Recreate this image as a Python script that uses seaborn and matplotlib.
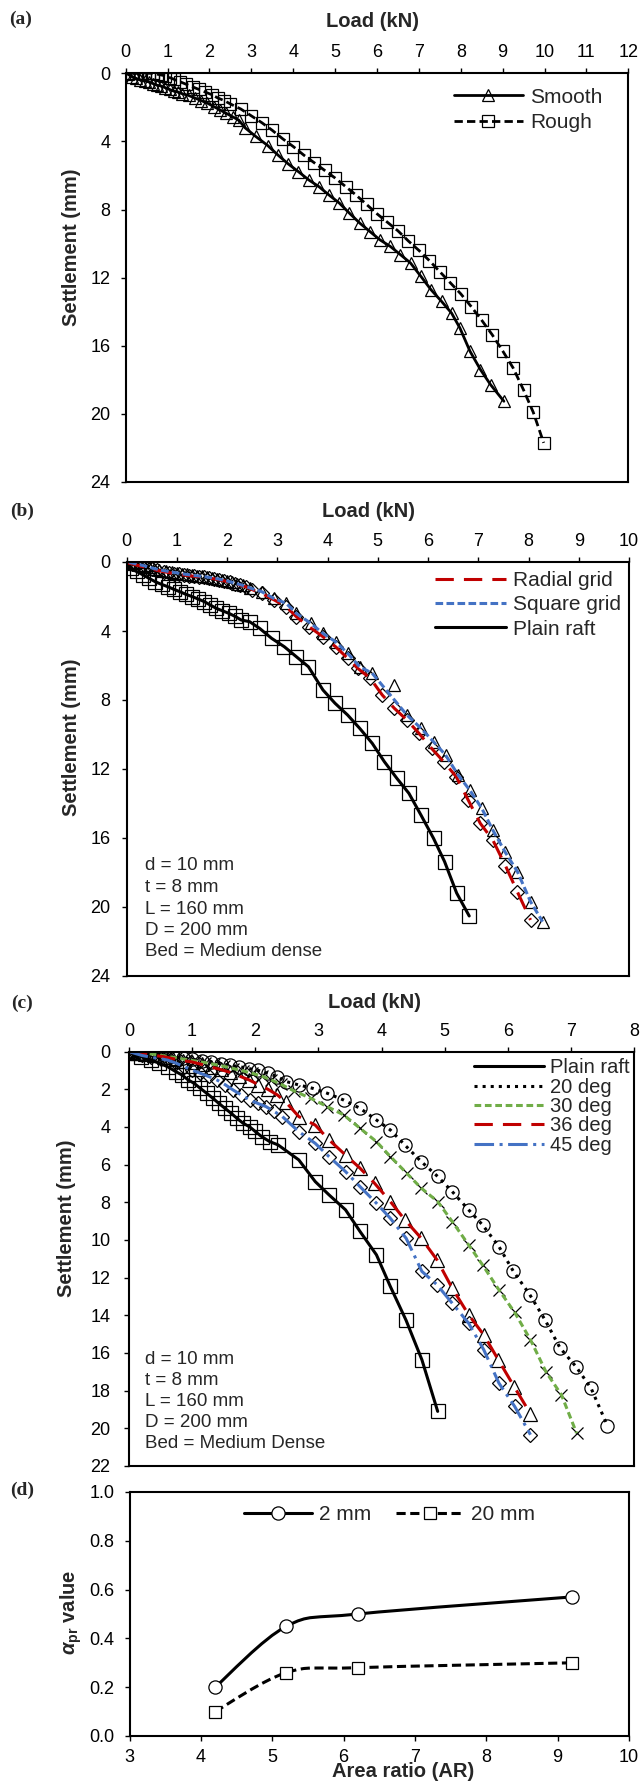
import numpy as np
import matplotlib
matplotlib.use("Agg")
import matplotlib.pyplot as plt
import seaborn as sns
from matplotlib.lines import Line2D
from matplotlib.path import Path
from matplotlib.patches import PathPatch

# ---------------- data ----------------
# (a) Smooth vs Rough
a_smooth_load = [0.05,0.15,0.25,0.35,0.45,0.55,0.65,0.75,0.85,0.95,1.05,1.15,1.25,1.35,1.5,1.65,1.8,1.95,2.1,2.25,2.4,2.55,2.7,
                 2.85,3.1,3.39,3.63,3.88,4.12,4.37,4.61,4.85,5.1,5.34,5.59,5.83,6.07,6.32,6.56,6.8,7.05,7.29,7.54,7.78,7.98,8.22,8.47,8.71,9.03]
a_smooth_sett = [0.05,0.2,0.3,0.4,0.45,0.5,0.6,0.7,0.75,0.85,0.95,1.05,1.1,1.2,1.3,1.45,1.6,1.75,1.95,2.15,2.35,2.55,2.75,
                 3.2,3.7,4.24,4.79,5.32,5.77,6.26,6.65,7.14,7.62,8.21,8.8,9.29,9.78,10.17,10.65,11.14,11.93,12.71,13.39,14.08,14.96,16.32,17.4,18.28,19.26]
a_rough_load = [0.15,0.25,0.35,0.45,0.55,0.65,0.75,0.85,0.95,1.05,1.15,1.3,1.45,1.6,1.75,1.9,2.05,2.2,2.35,
                2.5,2.75,3.0,3.25,3.5,3.75,4.0,4.25,4.5,4.75,5.0,5.25,5.5,5.75,6.0,6.25,6.5,6.75,7.0,7.25,7.5,7.75,8.0,8.25,8.5,8.75,9.0,9.25,9.5,9.73,9.98]
a_rough_sett = [0.0,0.0,0.0,0.0,0.0,0.0,0.05,0.1,0.15,0.25,0.35,0.5,0.65,0.8,0.95,1.1,1.25,1.45,1.6,
                1.8,2.1,2.5,2.9,3.35,3.85,4.3,4.8,5.25,5.7,6.15,6.65,7.15,7.7,8.25,8.75,9.25,9.85,10.4,11.0,11.65,12.3,12.95,13.7,14.5,15.35,16.3,17.3,18.6,19.9,21.7]

# (b) Radial grid / Square grid / Plain raft
b_plain_load = [0.0,0.09,0.2,0.33,0.45,0.57,0.7,0.82,0.94,1.06,1.18,1.31,1.43,1.55,1.67,1.79,1.91,2.04,2.16,2.28,2.45,
                2.65,2.89,3.14,3.38,3.62,3.91,4.15,4.4,4.64,4.89,5.13,5.38,5.62,5.86,6.11,6.33,6.57,6.82]
b_plain_sett = [0.05,0.37,0.55,0.75,0.95,1.14,1.3,1.43,1.58,1.72,1.87,2.01,2.15,2.3,2.5,2.69,2.83,2.98,3.15,3.36,3.46,
                3.85,4.43,4.91,5.49,6.07,7.42,8.19,8.87,9.64,10.51,11.57,12.54,13.41,14.67,16.02,17.37,19.19,20.52]
b_radial_load = [0.0,0.1,0.2,0.3,0.4,0.5,0.6,0.74,0.85,0.95,1.05,1.15,1.25,1.35,1.45,1.55,1.65,1.75,1.85,1.95,2.05,2.15,2.25,2.37,2.5,2.69,
                 2.94,3.18,3.38,3.63,3.91,4.16,4.4,4.6,4.85,5.09,5.33,5.58,5.82,6.07,6.31,6.56,6.8,7.04,7.29,7.54,7.78,8.04]
b_radial_sett = [0.04,0.1,0.18,0.25,0.32,0.4,0.48,0.56,0.62,0.68,0.72,0.76,0.8,0.83,0.85,0.88,0.93,0.98,1.03,1.1,1.18,1.25,1.33,1.43,1.6,1.82,
                 2.2,2.59,3.17,3.75,4.33,4.91,5.58,6.16,6.74,7.71,8.48,9.16,9.93,10.8,11.57,12.44,13.8,15.15,16.12,17.6,19.13,20.75]
b_square_load = [0.05,0.15,0.25,0.35,0.45,0.55,0.65,0.78,0.9,1.0,1.1,1.2,1.3,1.4,1.5,1.6,1.7,1.8,1.9,2.0,2.1,2.2,2.32,2.45,
                 2.69,2.93,3.18,3.38,3.67,3.91,4.16,4.4,4.64,4.89,5.33,5.58,5.86,6.11,6.35,6.6,6.83,7.07,7.29,7.53,7.78,8.04,8.28]
b_square_sett = [0.02,0.08,0.15,0.22,0.3,0.38,0.45,0.52,0.58,0.63,0.68,0.72,0.76,0.8,0.83,0.87,0.92,0.97,1.03,1.1,1.18,1.26,1.36,1.5,
                 1.72,2.11,2.4,2.98,3.56,4.14,4.62,5.29,6.07,6.45,7.13,8.87,9.64,10.42,11.19,12.35,13.22,14.28,15.54,16.79,17.95,19.69,20.85]
b_square_on_line = [True] * len(b_square_load)
b_square_on_line[34] = False  # stray reading at 5.33 kN sits off the trend line

# (c) plain raft and angles
c_plain_load = [0.0,0.03,0.19,0.35,0.48,0.61,0.74,0.84,0.94,1.03,1.13,1.23,1.33,1.42,1.52,1.62,1.71,1.81,1.91,2.0,2.1,2.23,2.36,
                2.69,2.95,3.17,3.43,3.66,3.92,4.14,4.39,4.64,4.89]
c_plain_sett = [0.0,0.09,0.27,0.45,0.62,0.8,1.06,1.24,1.51,1.68,1.95,2.21,2.48,2.74,3.01,3.28,3.54,3.81,3.99,4.24,4.51,4.78,4.95,
                5.75,6.9,7.61,8.4,9.55,10.79,12.47,14.27,16.36,19.1]
c_20_load = [0.0,0.1,0.2,0.3,0.4,0.55,0.7,0.85,1.0,1.15,1.3,1.45,1.6,1.75,1.9,2.05,2.2,2.35,
             2.49,2.69,2.91,3.14,3.4,3.66,3.92,4.14,4.37,4.63,4.89,5.12,5.38,5.6,5.86,6.09,6.35,6.59,6.83,7.08,7.32,7.58]
c_20_sett = [0.0,0.05,0.1,0.13,0.16,0.2,0.25,0.32,0.4,0.48,0.56,0.64,0.72,0.8,0.9,1.0,1.15,1.33,
             1.59,1.77,1.95,2.21,2.57,3.01,3.63,4.16,4.96,5.84,6.63,7.43,8.4,9.2,10.35,11.67,12.91,14.24,15.74,16.72,17.87,19.87]
c_30_load = [0.0,0.15,0.3,0.45,0.6,0.75,0.9,1.05,1.2,1.35,1.5,1.65,1.8,1.95,2.1,2.25,2.4,2.62,
             2.88,3.14,3.4,3.66,3.92,4.14,4.4,4.63,4.89,5.12,5.38,5.6,5.86,6.11,6.36,6.61,6.85,7.09]
c_30_sett = [0.0,0.05,0.1,0.17,0.25,0.33,0.42,0.5,0.58,0.68,0.78,0.9,1.02,1.15,1.3,1.5,1.72,2.1,
             2.48,2.92,3.36,4.07,4.78,5.57,6.46,7.25,7.96,9.02,10.26,11.32,12.65,13.85,15.3,17.03,18.22,20.25]
c_36_load = [0.0,0.12,0.25,0.4,0.55,0.7,0.85,1.0,1.15,1.3,1.45,1.6,1.75,1.9,2.05,2.2,2.35,2.49,
             2.69,2.95,3.17,3.43,3.66,3.89,4.14,4.37,4.63,4.88,5.12,5.38,5.62,5.85,6.1,6.36]
c_36_sett = [0.0,0.05,0.12,0.2,0.27,0.38,0.48,0.55,0.68,0.82,0.95,1.1,1.3,1.5,1.75,2.0,2.3,2.7,
             3.45,3.9,4.69,5.49,6.19,6.99,7.96,8.93,9.91,11.06,12.56,13.97,15.04,16.36,17.78,19.23]
c_45_load = [0.0,0.1,0.2,0.35,0.5,0.61,0.75,0.87,1.0,1.13,1.26,1.39,1.52,1.65,1.78,1.91,2.04,2.17,2.3,2.43,
             2.69,2.95,3.17,3.43,3.66,3.92,4.14,4.39,4.64,4.88,5.12,5.38,5.62,5.86,6.11,6.36]
c_45_sett = [0.0,0.1,0.2,0.3,0.38,0.45,0.62,0.8,0.98,1.15,1.32,1.5,1.75,2.04,2.3,2.57,2.75,2.92,3.18,3.45,
             4.25,4.87,5.58,6.37,7.17,8.05,8.85,9.91,11.67,12.38,13.36,14.42,15.83,17.6,18.84,20.34]

# (d) alpha_pr vs area ratio
d_area_ratio = [4.2, 5.2, 6.2, 9.2]
d_alpha_2mm = [0.20, 0.45, 0.50, 0.57]
d_alpha_20mm = [0.10, 0.26, 0.28, 0.30]

# tick labels / annotation text
a_xticks = list(range(0, 13))
b_xticks = list(range(0, 11))
c_xticks = list(range(0, 9))
ab_yticks = [0, 4, 8, 12, 16, 20, 24]
c_yticks = [0, 2, 4, 6, 8, 10, 12, 14, 16, 18, 20, 22]
d_xticks = [3, 4, 5, 6, 7, 8, 9, 10]
d_yticks = [0.0, 0.2, 0.4, 0.6, 0.8, 1.0]
b_note = ["d = 10 mm", "t = 8 mm", "L = 160 mm", "D = 200 mm", "Bed = Medium dense"]
c_note = ["d = 10 mm", "t = 8 mm", "L = 160 mm", "D = 200 mm", "Bed = Medium Dense"]

# ---------------- style ----------------
sns.set_theme(style="white")
plt.rcParams["font.family"] = ["Liberation Sans", "DejaVu Sans"]
plt.rcParams["mathtext.fontset"] = "custom"
plt.rcParams["mathtext.rm"] = "Liberation Sans:bold"
plt.rcParams["mathtext.it"] = "Liberation Sans:italic:bold"
plt.rcParams["mathtext.bf"] = "Liberation Sans:bold"

RED = "#C00000"
BLUE = "#4472C4"
GREEN = "#70AD47"
TICK_FS = 13
LAB_FS = 14.5
LEG_FS = 15
NOTE_FS = 13.5

W, H = 641, 1791
fig = plt.figure(figsize=(W / 100, H / 100), dpi=100)


def add_ax(l, r, t, b):
    return fig.add_axes([l / W, 1 - b / H, (r - l) / W, (b - t) / H])


def ftext(x, y, s, **kw):
    fig.text(x / W, 1 - y / H, s, **kw)


def style_ax(ax, ypad, xtop=True, xpad=5.0):
    for sp in ax.spines.values():
        sp.set_visible(True)
        sp.set_color("black")
        sp.set_linewidth(1.5)
    if xtop:
        ax.tick_params(axis="x", top=True, bottom=False, labeltop=True, labelbottom=False,
                       direction="out", length=3.6, width=1, pad=xpad, labelsize=TICK_FS, colors="black")
    else:
        ax.tick_params(axis="x", top=False, bottom=True, direction="out", length=3.6, width=1,
                       pad=xpad, labelsize=TICK_FS, colors="black")
    ax.tick_params(axis="y", left=True, right=False, direction="out", length=3.4, width=1,
                   pad=ypad, labelsize=TICK_FS, colors="black")
    ax.set_xlabel("")
    ax.set_ylabel("")
    ax.grid(False)


def draw_markers(ax, x, y, marker, ms, mew=0.9):
    sns.lineplot(x=x, y=y, ax=ax, linestyle="none", marker=marker, markersize=ms,
                 markerfacecolor="none", markeredgecolor="black", markeredgewidth=mew,
                 color="black", sort=False, estimator=None)


def draw_line(ax, x, y, color, ls, lw=2.0):
    sns.lineplot(x=x, y=y, ax=ax, color=color, linestyle=ls, linewidth=lw,
                 sort=False, estimator=None)


# ---------------- (a) ----------------
ax = add_ax(125.7, 628.3, 73.3, 482)
draw_markers(ax, a_smooth_load, a_smooth_sett, "^", 8.5)
draw_markers(ax, a_rough_load, a_rough_sett, "s", 8.5)
draw_line(ax, a_smooth_load, a_smooth_sett, "black", "-", 2.0)
draw_line(ax, a_rough_load, a_rough_sett, "black", (0, (3, 1.5)), 2.0)
ax.set_xlim(0, 12)
ax.set_ylim(24, 0)
ax.set_xticks(a_xticks)
ax.set_yticks(ab_yticks)
style_ax(ax, ypad=7.6)
hs = [Line2D([], [], color="black", lw=2, marker="^", ms=8.5, mfc="none", mec="black", mew=0.9),
      Line2D([], [], color="black", lw=2, ls=(0, (3, 1.5)), marker="s", ms=8.5, mfc="none", mec="black", mew=0.9)]
ax.legend(hs, ["Smooth", "Rough"], loc="upper left", bbox_to_anchor=(0.653, 0.965), frameon=False,
          fontsize=LEG_FS, handlelength=3.3, handletextpad=0.35, labelspacing=0.32, borderpad=0, borderaxespad=0)

# ---------------- (b) ----------------
ax = add_ax(126.5, 629, 562, 976)
draw_markers(ax, b_plain_load, b_plain_sett, "s", 9.5)
draw_markers(ax, b_radial_load, b_radial_sett, "D", 7.5)
draw_markers(ax, b_square_load, b_square_sett, "^", 9)
draw_line(ax, b_plain_load, b_plain_sett, "black", "-", 2.2)
draw_line(ax, b_radial_load, b_radial_sett, RED, (0, (6, 3.3)), 2.2)
sq_x = [v for v, k in zip(b_square_load, b_square_on_line) if k]
sq_y = [v for v, k in zip(b_square_sett, b_square_on_line) if k]
draw_line(ax, sq_x, sq_y, BLUE, (0, (2.5, 1.1)), 2.2)
ax.set_xlim(0, 10)
ax.set_ylim(24, 0)
ax.set_xticks(b_xticks)
ax.set_yticks(ab_yticks)
style_ax(ax, ypad=8.2)
hs = [Line2D([], [], color=RED, lw=2.2, ls=(0, (6, 3.3))),
      Line2D([], [], color=BLUE, lw=2.2, ls=(0, (2.5, 1.1))),
      Line2D([], [], color="black", lw=2.2)]
ax.legend(hs, ["Radial grid", "Square grid", "Plain raft"], loc="upper left", bbox_to_anchor=(0.614, 0.978),
          frameon=False, fontsize=LEG_FS, handlelength=3.4, handletextpad=0.34, labelspacing=0.25,
          borderpad=0, borderaxespad=0)
for i, s in enumerate(b_note):
    ftext(145, 866 + i * 21.5, s, fontsize=NOTE_FS, ha="left", va="center")

# ---------------- (c) ----------------
ax = add_ax(129, 634, 1051.6, 1466)
draw_markers(ax, c_plain_load, c_plain_sett, "s", 9.5)
draw_markers(ax, c_20_load, c_20_sett, "o", 9.5)
draw_markers(ax, c_30_load, c_30_sett, "x", 8.5)
draw_markers(ax, c_36_load, c_36_sett, "^", 9.5)
draw_markers(ax, c_45_load, c_45_sett, "D", 7.5)
draw_line(ax, c_plain_load, c_plain_sett, "black", "-", 2.2)
draw_line(ax, c_20_load, c_20_sett, "black", ":", 2.2)
draw_line(ax, c_30_load, c_30_sett, GREEN, (0, (2.2, 1.2)), 2.2)
draw_line(ax, c_36_load, c_36_sett, RED, (0, (6, 3.3)), 2.2)
draw_line(ax, c_45_load, c_45_sett, BLUE, (0, (6.4, 1.8, 1, 1.8)), 2.2)
ax.set_xlim(0, 8)
ax.set_ylim(22, 0)
ax.set_xticks(c_xticks)
ax.set_yticks(c_yticks)
style_ax(ax, ypad=10.0)
hs = [Line2D([], [], color="black", lw=2.2),
      Line2D([], [], color="black", lw=2.2, ls=":"),
      Line2D([], [], color=GREEN, lw=2.2, ls=(0, (2.2, 1.2))),
      Line2D([], [], color=RED, lw=2.2, ls=(0, (6, 3.3))),
      Line2D([], [], color=BLUE, lw=2.2, ls=(0, (6.4, 1.8, 1, 1.8)))]
ax.legend(hs, ["Plain raft", "20 deg", "30 deg", "36 deg", "45 deg"], loc="upper left",
          bbox_to_anchor=(0.683, 0.984), frameon=False, fontsize=14.5, handlelength=3.5,
          handletextpad=0.3, labelspacing=0.02, borderpad=0, borderaxespad=0)
for i, s in enumerate(c_note):
    ftext(145, 1359.3 + i * 21.0, s, fontsize=NOTE_FS, ha="left", va="center")

# ---------------- (d) ----------------
ax = add_ax(129.5, 629, 1492, 1736)


def smooth_path(xs, ys):
    pts = np.column_stack([xs, ys]).astype(float)
    n = len(pts)
    verts = [pts[0]]
    codes = [Path.MOVETO]
    for i in range(n - 1):
        p0 = pts[i - 1] if i > 0 else pts[i]
        p1 = pts[i]
        p2 = pts[i + 1]
        p3 = pts[i + 2] if i + 2 < n else pts[i + 1]
        verts += [p1 + (p2 - p0) / 6.0, p2 - (p3 - p1) / 6.0, p2]
        codes += [Path.CURVE4] * 3
    return Path(verts, codes)


ax.add_patch(PathPatch(smooth_path(d_area_ratio, d_alpha_2mm), facecolor="none", edgecolor="black", lw=2.2))
ax.add_patch(PathPatch(smooth_path(d_area_ratio, d_alpha_20mm), facecolor="none", edgecolor="black",
                       lw=2.2, linestyle=(0, (3, 1.5))))
sns.lineplot(x=d_area_ratio, y=d_alpha_2mm, ax=ax, linestyle="none", marker="o", markersize=9.5,
             markerfacecolor="white", markeredgecolor="black", markeredgewidth=0.9, color="black",
             sort=False, estimator=None)
sns.lineplot(x=d_area_ratio, y=d_alpha_20mm, ax=ax, linestyle="none", marker="s", markersize=9,
             markerfacecolor="white", markeredgecolor="black", markeredgewidth=0.9, color="black",
             sort=False, estimator=None)
ax.set_xlim(3, 10)
ax.set_ylim(0, 1.0)
ax.set_xticks(d_xticks)
ax.set_yticks(d_yticks)
ax.set_yticklabels([f"{v:.1f}" for v in d_yticks])
style_ax(ax, ypad=7.5, xtop=False, xpad=5.5)
hs = [Line2D([], [], color="black", lw=2.2, marker="o", ms=9.5, mfc="white", mec="black", mew=0.9),
      Line2D([], [], color="black", lw=2.2, ls=(0, (3, 1.5)), marker="s", ms=9, mfc="white", mec="black", mew=0.9)]
ax.legend(hs, ["2 mm", "20 mm"], loc="upper left", bbox_to_anchor=(0.229, 0.945), ncol=2, frameon=False,
          fontsize=LEG_FS, handlelength=3.25, handletextpad=0.34, columnspacing=1.2, borderpad=0,
          borderaxespad=0)

# ---------------- labels ----------------
for (x, y, s) in [(21, 19, "(a)"), (22, 511, "(b)"), (22, 1003, "(c)"), (22, 1490, "(d)")]:
    ftext(x, y, s, family=["Liberation Serif", "DejaVu Serif"], fontweight="bold", fontsize=14,
          ha="center", va="center")
for (x, y) in [(372, 21.7), (368, 511.7), (374, 1003)]:
    ftext(x, y, "Load (kN)", fontweight="bold", fontsize=LAB_FS, ha="center", va="center")
for (x, y) in [(71.5, 247), (71.5, 737.5), (67, 1218)]:
    ftext(x, y, "Settlement (mm)", fontweight="bold", fontsize=LAB_FS, ha="center", va="center", rotation=90)
ftext(71.5, 1612, r"$\alpha_{\mathbf{pr}}$ value", fontweight="bold", fontsize=LAB_FS, ha="center",
      va="center", rotation=90)
ftext(403, 1771.7, "Area ratio (AR)", fontweight="bold", fontsize=LAB_FS, ha="center", va="center")

fig.savefig("out.png", dpi=100)
